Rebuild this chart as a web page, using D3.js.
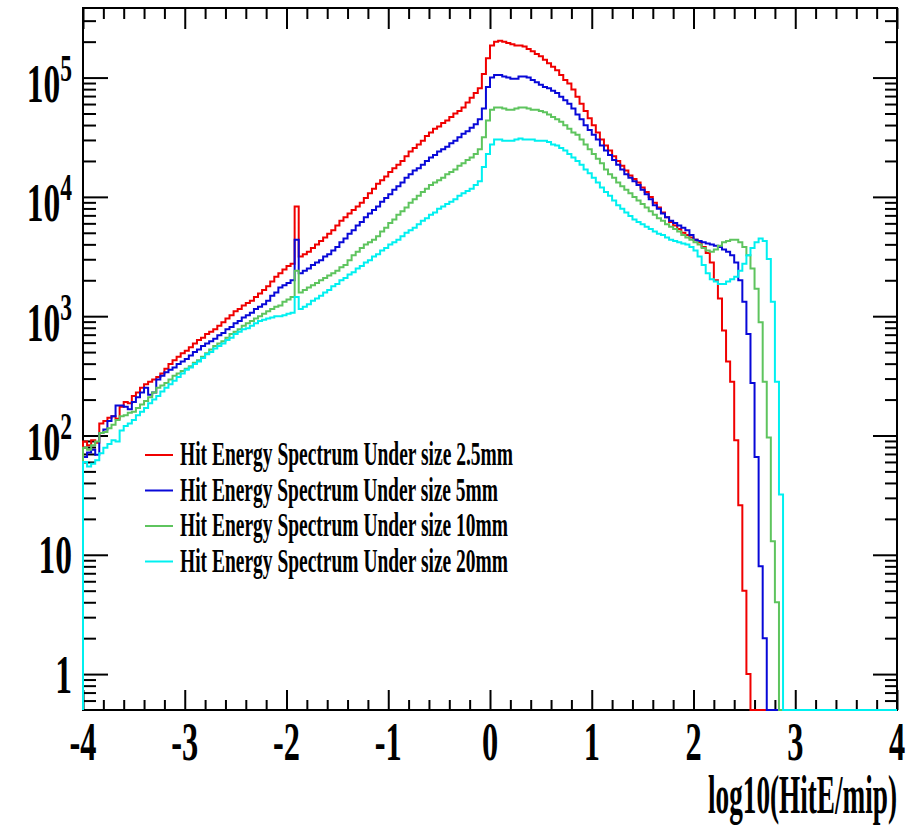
<!doctype html>
<html>
<head>
<meta charset="utf-8">
<script src="https://d3js.org/d3.v7.min.js"></script>
<style>
    body { margin: 0; background: #fff; }
    svg text { font-family: 'Liberation Serif', 'Times New Roman', serif; font-weight: bold; fill: #000; }
</style>
</head>
<body>
<div id="graph"></div>
<script>
// histogram binning: 200 bins of 0.04 from -4 to 4, counts per bin (bins past the end are empty)
const binStart = -4
const binWidth = 0.04

const hist25 = [
    89, 83, 91, 87, 126, 132, 141, 145, 138, 174,
    191, 186, 214, 229, 251, 269, 282, 295, 309, 331,
    363, 398, 427, 457, 490, 513, 550, 589, 631, 661,
    708, 741, 776, 832, 891, 955, 1020, 1100, 1150, 1230,
    1290, 1350, 1450, 1550, 1660, 1780, 1950, 2140, 2290, 2460,
    2630, 2750, 8320, 3160, 3310, 3470, 3720, 3980, 4270, 4570,
    4900, 5250, 5750, 6310, 6760, 7240, 7760, 8320, 8910, 9770,
    10700, 11700, 12900, 13800, 14800, 16200, 17400, 18600, 20000, 21900,
    24000, 25700, 27500, 29500, 32400, 34700, 37200, 38900, 41700, 43700,
    46800, 50100, 52500, 56200, 61700, 67600, 74100, 81300, 107000, 145000,
    186000, 200000, 204000, 200000, 195000, 190000, 186000, 186000, 182000, 174000,
    166000, 158000, 151000, 141000, 132000, 123000, 115000, 105000, 95500, 89100,
    79400, 69200, 60300, 52500, 45700, 39800, 34700, 30200, 26900, 24500,
    21900, 20000, 18200, 16600, 15100, 14100, 13200, 12000, 11000, 10000,
    8910, 8130, 7410, 6760, 6170, 5750, 5370, 5010, 4790, 4570,
    4370, 4170, 3800, 3390, 2820, 2000, 1410, 759, 417, 282,
    91, 26, 5, 1
]

const hist5 = [
    66, 72, 76, 69, 105, 112, 132, 145, 178, 178,
    174, 166, 191, 209, 229, 251, 219, 229, 295, 316,
    339, 355, 372, 398, 417, 437, 468, 501, 525, 562,
    589, 617, 646, 692, 724, 776, 813, 871, 912, 977,
    1020, 1070, 1150, 1200, 1260, 1350, 1480, 1580, 1740, 1820,
    1900, 2000, 4370, 2290, 2400, 2510, 2690, 2820, 2950, 3160,
    3310, 3550, 3800, 4170, 4470, 4900, 5250, 5750, 6170, 6760,
    7240, 7760, 8320, 9120, 9770, 10500, 11500, 12300, 13200, 14500,
    15500, 16600, 17400, 18600, 20000, 21400, 22400, 24000, 25100, 26300,
    28200, 29500, 31600, 33900, 35500, 38000, 40700, 44700, 55000, 83200,
    100000, 105000, 105000, 102000, 100000, 97700, 97700, 102000, 102000, 100000,
    95500, 91200, 87100, 83200, 81300, 77600, 74100, 69200, 64600, 60300,
    55000, 49000, 44700, 39800, 36300, 33100, 30200, 26900, 24500, 22400,
    20400, 18600, 17000, 15500, 14500, 13500, 12600, 11500, 10500, 9550,
    8510, 7940, 7240, 6760, 6310, 6030, 5750, 5500, 5250, 4790,
    4370, 4270, 4170, 4070, 3980, 3890, 3800, 3630, 3470, 3240,
    2820, 2000, 1320, 708, 275, 66, 8, 2
]

const hist10 = [
    79, 76, 83, 89, 105, 107, 115, 123, 135, 145,
    148, 155, 158, 170, 182, 195, 209, 229, 251, 263,
    275, 295, 316, 331, 347, 363, 380, 407, 427, 457,
    490, 525, 562, 589, 617, 661, 708, 741, 776, 832,
    871, 912, 955, 1000, 1050, 1100, 1150, 1200, 1230, 1320,
    1380, 1450, 2400, 1580, 1660, 1740, 1820, 1900, 2000, 2090,
    2190, 2290, 2400, 2570, 2690, 2950, 3240, 3470, 3720, 3980,
    4170, 4370, 4680, 5130, 5500, 6030, 6460, 7080, 7590, 8130,
    8910, 9550, 10200, 11000, 11700, 12600, 13200, 13800, 14500, 15500,
    16200, 17000, 18200, 19100, 20400, 21400, 22900, 25100, 31600, 43700,
    53700, 56200, 56200, 55000, 53700, 53700, 55000, 56200, 56200, 55000,
    53700, 53700, 52500, 51300, 49000, 46800, 44700, 42700, 39800, 37200,
    34700, 33100, 30200, 27500, 25100, 22900, 20900, 19100, 17000, 15500,
    14500, 13200, 12300, 11500, 10700, 10000, 9330, 8710, 8130, 7590,
    7080, 6610, 6310, 5890, 5620, 5370, 5130, 4790, 4570, 4370,
    4170, 3980, 3720, 3550, 3470, 3630, 3890, 4170, 4270, 4370,
    4370, 4170, 3800, 3240, 2510, 1700, 891, 282, 96, 13,
    4
]

const hist20 = [
    60, 55, 58, 62, 71, 79, 85, 91, 89, 110,
    120, 126, 135, 148, 158, 170, 186, 200, 214, 234,
    251, 269, 288, 309, 331, 355, 372, 398, 417, 447,
    479, 501, 537, 562, 589, 631, 661, 708, 741, 776,
    794, 832, 871, 912, 933, 955, 977, 1000, 1000, 1020,
    1050, 1070, 1450, 1150, 1200, 1260, 1350, 1410, 1480, 1580,
    1660, 1780, 1860, 2000, 2090, 2240, 2340, 2510, 2630, 2820,
    2950, 3160, 3310, 3550, 3720, 3980, 4170, 4370, 4680, 5010,
    5250, 5500, 5890, 6310, 6610, 7080, 7410, 7940, 8320, 8710,
    9120, 9550, 10200, 10700, 11200, 11700, 12600, 13500, 17800, 22900,
    27500, 30200, 30200, 29500, 29500, 29500, 30200, 30900, 30200, 30200,
    30200, 29500, 29500, 29500, 28800, 27500, 26900, 25700, 24500, 22900,
    21400, 20000, 18600, 17000, 15800, 14500, 13200, 12000, 11000, 10200,
    9330, 8510, 7940, 7410, 6920, 6460, 6170, 5890, 5620, 5370,
    5130, 4900, 4790, 4570, 4370, 4270, 4170, 4070, 3980, 3800,
    3550, 3160, 2690, 2290, 2040, 1950, 1860, 1860, 1950, 2040,
    2140, 2400, 2750, 3240, 3720, 4170, 4470, 4270, 3020, 1320,
    282, 32
]

const seriesNames = [
    'Hit Energy Spectrum Under size 2.5mm',
    'Hit Energy Spectrum Under size 5mm',
    'Hit Energy Spectrum Under size 10mm',
    'Hit Energy Spectrum Under size 20mm'
]
const xTickValues = [-4, -3, -2, -1, 0, 1, 2, 3, 4]
const xTickLabels = ['-4', '-3', '-2', '-1', '0', '1', '2', '3', '4']
const yTickValues = [1, 10, 100, 1000, 10000, 100000]
const yTickLabels = [['1', ''], ['10', ''], ['10', '2'], ['10', '3'], ['10', '4'], ['10', '5']]
const xTitle = 'log10(HitE/mip)'

// ---- layout / style
const colors = ['#f00000', '#0808d8', '#5ec45e', '#00f0f0']
const legendWidths = [333, 318, 328, 328]
const frameLeft = 83, frameRight = 897, frameTop = 8, frameBottom = 710

const svg = d3.select('#graph')
    .append('svg')
    .attr('width', 921)
    .attr('height', 825)

const x = d3.scaleLinear().domain([-4, 4]).range([frameLeft, frameRight])
const y = d3.scaleLog().domain([0.5, 3.83e5]).range([frameBottom, frameTop])

// minor tick positions
const xMinor = d3.range(-4, 4.001, 0.2).filter(v => Math.abs(v - Math.round(v)) > 1e-6)
const yMinor = []
for (let k = -1; k <= 5; k++) {
    for (let m = 2; m <= 9; m++) {
        const v = m * Math.pow(10, k)
        if (v > 0.5 && v < 3.83e5) yMinor.push(v)
    }
}

function ticks(axis, tx, ty, values, size) {
    svg.append('g')
        .attr('transform', `translate(${tx},${ty})`)
        .call(axis.tickValues(values).tickSize(size).tickFormat(''))
        .call(g => g.select('.domain').remove())
        .call(g => g.selectAll('line').attr('stroke', '#000').attr('stroke-width', 2))
}

ticks(d3.axisBottom(x), 0, frameBottom, xMinor, -10)
ticks(d3.axisBottom(x), 0, frameBottom, xTickValues, -20)
ticks(d3.axisTop(x), 0, frameTop, xMinor, -11)
ticks(d3.axisTop(x), 0, frameTop, xTickValues, -21)
ticks(d3.axisLeft(y), frameLeft, 0, yMinor, -13)
ticks(d3.axisLeft(y), frameLeft, 0, yTickValues, -25)
ticks(d3.axisRight(y), frameRight, 0, yMinor, -12)
ticks(d3.axisRight(y), frameRight, 0, yTickValues, -24)

svg.append('rect')
    .attr('x', frameLeft).attr('y', frameTop)
    .attr('width', frameRight - frameLeft).attr('height', frameBottom - frameTop)
    .attr('fill', 'none')
    .attr('stroke', '#000')
    .attr('stroke-width', 2)

// x labels
svg.selectAll('.xlab')
    .data(xTickValues)
    .enter()
    .append('text')
    .attr('class', 'xlab')
    .attr('transform', d => `translate(${x(d)},760) scale(0.6,1)`)
    .attr('text-anchor', 'middle')
    .attr('font-size', 54)
    .text((d, i) => xTickLabels[i])

// y labels (with superscript exponents)
yTickValues.forEach((v, i) => {
    const [base, exp] = yTickLabels[i]
    const t = svg.append('text')
        .attr('transform', `translate(72,${y(v) + (exp ? 24.5 : 18.5)}) scale(0.62,1)`)
        .attr('text-anchor', 'end')
        .attr('font-size', 54)
    t.append('tspan').text(base)
    if (exp) t.append('tspan').attr('dy', -21).attr('font-size', 38).text(exp)
})

svg.append('text')
    .attr('x', frameRight)
    .attr('y', 813)
    .attr('text-anchor', 'end')
    .attr('font-size', 55)
    .attr('textLength', 189)
    .attr('lengthAdjust', 'spacingAndGlyphs')
    .text(xTitle)

// histograms, drawn as ROOT-style steps; empty bins sit on the frame bottom
const floorY = y.range()[0]
const yv = v => v > 0 ? y(v) : floorY
const stepLine = d3.line().x(d => x(d[0])).y(d => yv(d[1])).curve(d3.curveStepAfter)

const allHists = [hist25, hist5, hist10, hist20]
allHists.forEach((h, s) => {
    const pts = [[binStart, 0]]
    h.forEach((c, i) => pts.push([binStart + i * binWidth, c]))
    pts.push([binStart + h.length * binWidth, 0])
    pts.push([4, 0])
    svg.append('path')
        .attr('d', stepLine(pts))
        .attr('fill', 'none')
        .attr('stroke', colors[s])
        .attr('stroke-width', 2)
})

// legend
const legend = svg.append('g')
seriesNames.forEach((name, i) => {
    const ly = 455 + i * 35.5
    legend.append('line')
        .attr('x1', 145).attr('x2', 173)
        .attr('y1', ly).attr('y2', ly)
        .attr('stroke', colors[i])
        .attr('stroke-width', 2)
    legend.append('text')
        .attr('x', 180)
        .attr('y', ly + 10)
        .attr('font-size', 33)
        .attr('textLength', legendWidths[i])
        .attr('lengthAdjust', 'spacingAndGlyphs')
        .text(name)
})
</script>
</body>
</html>
